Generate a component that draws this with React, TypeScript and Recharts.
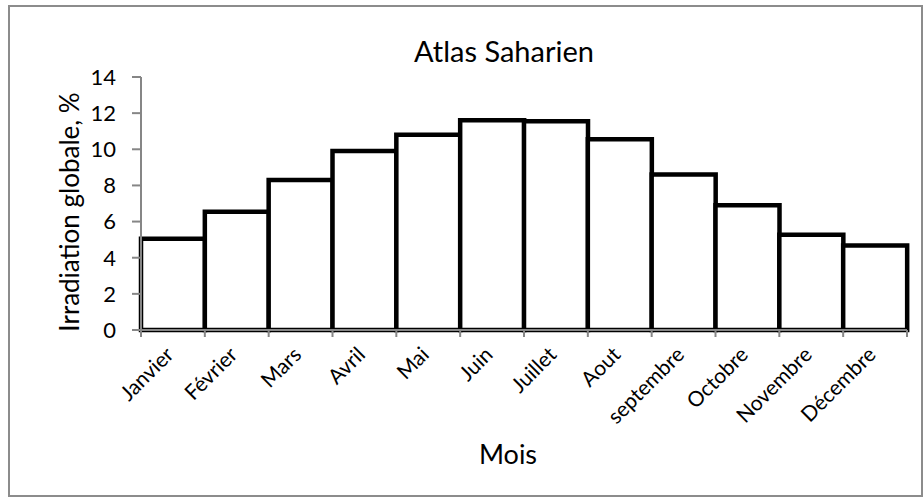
import React from 'react';
import { BarChart, Bar, XAxis, YAxis } from 'recharts';

const months = ['Janvier', 'Février', 'Mars', 'Avril', 'Mai', 'Juin', 'Juillet', 'Aout', 'septembre', 'Octobre', 'Novembre', 'Décembre'];
const irradiation = [5.05, 6.55, 8.3, 9.9, 10.8, 11.6, 11.55, 10.55, 8.6, 6.9, 5.27, 4.68];
const yTicks = [0, 2, 4, 6, 8, 10, 12, 14];

const W = 923;
const H = 497;
const margin = { top: 77, right: 16, left: 81, bottom: 107 };
const yAxisWidth = 60;
const plotWidth = W - margin.left - yAxisWidth - margin.right;
const band = plotWidth / months.length;
const axisGray = '#868686';
const font = 'Lato, "Noto Sans", sans-serif';

const data = months.map((m, i) => ({ month: m, value: irradiation[i] }));

// month label rotated -45deg, plus Excel-style tick marks between categories
const MonthTick = (props: any) => {
  const { x, y, payload, index } = props;
  const axisY = y - 6;
  const tx = x + 2;
  const ty = y + 20;
  return (
    <g>
      <line x1={x - band / 2} y1={axisY} x2={x - band / 2} y2={axisY + 7} stroke={axisGray} strokeWidth={2} />
      {index === months.length - 1 && (
        <line x1={x + band / 2} y1={axisY} x2={x + band / 2} y2={axisY + 7} stroke={axisGray} strokeWidth={2} />
      )}
      <text
        x={tx}
        y={ty}
        textAnchor="end"
        transform={`rotate(-45, ${tx}, ${ty})`}
        fontSize={21}
        fontFamily={font}
        fill="#000"
      >
        {payload.value}
      </text>
    </g>
  );
};

const App: React.FC = () => {
  return (
    <div style={{ position: 'absolute', left: 0, top: 0, width: W, height: H, background: '#fff', overflow: 'hidden' }}>
      <div style={{ position: 'absolute', left: 8, top: 5, width: 915, height: 492, border: '2px solid #8c8c8c', boxSizing: 'border-box' }} />
      <div style={{ position: 'absolute', left: 0, top: 0 }}>
        <BarChart width={W} height={H} data={data} margin={margin} barCategoryGap={0}>
          <XAxis
            dataKey="month"
            interval={0}
            tickLine={false}
            tickSize={6}
            tickMargin={0}
            tick={<MonthTick />}
            axisLine={{ stroke: axisGray, strokeWidth: 2 }}
            height={60}
          />
          <YAxis
            domain={[0, 14]}
            ticks={yTicks}
            width={yAxisWidth}
            tickSize={9}
            tickMargin={16}
            axisLine={{ stroke: axisGray, strokeWidth: 2 }}
            tickLine={{ stroke: axisGray, strokeWidth: 2 }}
            tick={{ fill: '#000', fontSize: 22, fontFamily: font }}
          />
          <Bar dataKey="value" fill="#fff" stroke="#000" strokeWidth={4.5} isAnimationActive={false} />
        </BarChart>
      </div>
      <div style={{ position: 'absolute', left: 0, width: 1008, top: 33, textAlign: 'center', fontFamily: font, fontSize: 29, color: '#000', lineHeight: '36px' }}>
        Atlas Saharien
      </div>
      <div style={{ position: 'absolute', left: 0, width: 1016, top: 437, textAlign: 'center', fontFamily: font, fontSize: 27, color: '#000', lineHeight: '34px' }}>
        Mois
      </div>
      <div
        style={{
          position: 'absolute',
          left: 69,
          top: 212,
          width: 320,
          marginLeft: -160,
          marginTop: -16,
          textAlign: 'center',
          fontFamily: font,
          fontSize: 26,
          lineHeight: '32px',
          color: '#000',
          transform: 'rotate(-90deg)',
          whiteSpace: 'nowrap',
        }}
      >
        Irradiation globale, %
      </div>
    </div>
  );
};

export default App;
